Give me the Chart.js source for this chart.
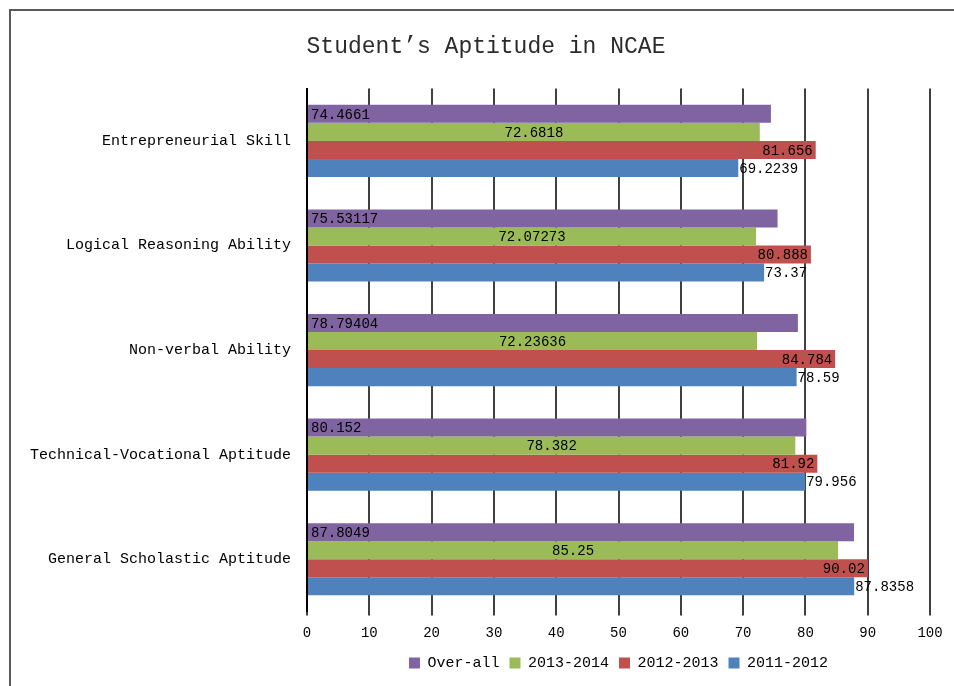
<!DOCTYPE html>
<html>
<head>
<meta charset="utf-8">
<script src="https://cdn.jsdelivr.net/npm/chart.js@4/dist/chart.umd.min.js"></script>
<style>
  html, body { margin: 0; padding: 0; background: #fff; }
  #wrap { position: relative; width: 954px; height: 686px; overflow: hidden; }
  #frame { position: absolute; left: 9px; top: 9px; width: 960px; height: 700px;
           border-top: 2px solid #5a5a5a; border-left: 2px solid #5a5a5a; box-sizing: border-box; }
  canvas { position: absolute; left: 0; top: 0; }
</style>
</head>
<body>
<div id="wrap">
  <div id="frame"></div>
  <canvas id="c" width="954" height="686"></canvas>
</div>
<script>
const categories = [
  "Entrepreneurial Skill",
  "Logical Reasoning Ability",
  "Non-verbal Ability",
  "Technical-Vocational Aptitude",
  "General Scholastic Aptitude"
];
const seriesNames = ["Over-all", "2013-2014", "2012-2013", "2011-2012"];
const overAll  = [74.4661, 75.53117, 78.79404, 80.152, 87.8049];
const y2013_14 = [72.6818, 72.07273, 72.23636, 78.382, 85.25];
const y2012_13 = [81.656, 80.888, 84.784, 81.92, 90.02];
const y2011_12 = [69.2239, 73.37, 78.59, 79.956, 87.8358];
const xTicks = [0, 10, 20, 30, 40, 50, 60, 70, 80, 90, 100];

const colors = ["#8064A2", "#9BBB59", "#C0504D", "#4F81BD"];
const labelModes = ["insideBase", "center", "insideEnd", "outsideEnd"];
const MONO = "'Liberation Mono', 'DejaVu Sans Mono', monospace";

const dataLabelPlugin = {
  id: "dataLabels",
  afterDatasetsDraw(chart) {
    const ctx = chart.ctx;
    ctx.save();
    ctx.font = "14px " + MONO;
    ctx.fillStyle = "#000";
    ctx.textBaseline = "middle";
    chart.data.datasets.forEach((ds, di) => {
      const meta = chart.getDatasetMeta(di);
      meta.data.forEach((el, i) => {
        const p = el.getProps(["x", "y", "base"], true);
        const txt = String(ds.data[i]);
        const mode = labelModes[di];
        let x;
        if (mode === "insideBase") { ctx.textAlign = "left"; x = p.base + 3; }
        else if (mode === "center") { ctx.textAlign = "center"; x = (p.base + p.x) / 2; }
        else if (mode === "insideEnd") { ctx.textAlign = "right"; x = p.x - 3; }
        else { ctx.textAlign = "left"; x = p.x + 1; }
        ctx.fillText(txt, x, p.y + 1);
      });
    });
    ctx.restore();
  }
};

const shiftPlugin = {
  id: "shiftBoxes",
  afterLayout(chart) {
    const lg = chart.legend;
    if (lg) {
      lg.left = chart.chartArea.left;
      lg.right = chart.chartArea.right;
      if (lg.adjustHitBoxes) lg.adjustHitBoxes();
    }
    const tt = chart.titleBlock;
    if (tt) { tt.left = 0; tt.right = 972; }
  }
};

const seriesData = [overAll, y2013_14, y2012_13, y2011_12];

new Chart(document.getElementById("c"), {
  type: "bar",
  data: {
    labels: categories,
    datasets: seriesNames.map((n, k) => ({
      label: n,
      data: seriesData[k],
      backgroundColor: colors[k],
      borderWidth: 0,
      categoryPercentage: 0.69,
      barPercentage: 1.0
    }))
  },
  options: {
    indexAxis: "y",
    responsive: false,
    animation: false,
    devicePixelRatio: 1,
    layout: { padding: { left: 0, right: 24, top: 0, bottom: 5.5 } },
    plugins: {
      tooltip: { enabled: false },
      title: {
        display: true,
        text: "Student\u2019s Aptitude in NCAE",
        color: "#2b2b2b",
        font: { family: MONO, size: 23, weight: "normal" },
        padding: { top: 33, bottom: 28 }
      },
      legend: {
        position: "bottom",
        labels: {
          color: "#000",
          font: { family: MONO, size: 15 },
          boxWidth: 11,
          boxHeight: 11,
          padding: 10
        }
      }
    },
    scales: {
      x: {
        min: 0,
        max: 100,
        afterBuildTicks(scale) { scale.ticks = xTicks.map(v => ({ value: v })); },
        afterFit(scale) { scale.height = 34; },
        grid: { color: "#404040", lineWidth: 2, drawTicks: true, tickLength: 4, tickColor: "#404040" },
        border: { display: false },
        ticks: { color: "#000", font: { family: MONO, size: 14 }, padding: 9 }
      },
      y: {
        afterFit(scale) { scale.width = 307; },
        grid: { display: false, drawTicks: false },
        border: { display: true, color: "#000", width: 2 },
        ticks: { color: "#000", font: { family: MONO, size: 15 }, padding: 16 }
      }
    }
  },
  plugins: [dataLabelPlugin, shiftPlugin]
});
</script>
</body>
</html>
